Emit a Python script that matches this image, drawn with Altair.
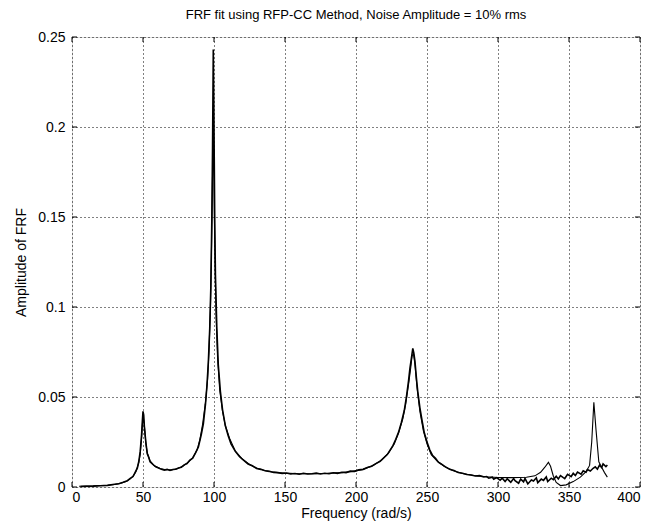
import altair as alt
import pandas as pd

# ---- data ----
freq_meas = [6, 10, 15, 20, 25, 30, 33, 36, 39, 41, 43, 45, 46, 47, 48, 49, 49.5, 50, 50.5, 51, 52, 53, 54, 55,
             57, 59, 61, 63, 65, 67, 69, 71, 73, 75, 77, 79, 81, 83, 85, 87, 89, 91, 92.5, 94, 95, 96, 97,
             97.8, 98.5, 99, 99.5, 100, 100.5, 101, 102, 103, 104.5, 106, 108, 110, 112, 115, 118, 121, 124,
             127, 130, 133, 136, 139, 142, 145, 148, 151, 154, 157, 160, 163, 166, 169, 172, 175, 178, 181,
             184, 187, 190, 193, 196, 199, 202, 205, 208, 211, 214, 217, 220, 222, 224, 226, 228, 230, 232,
             234, 235.5, 237, 238, 239, 240, 240.7, 241.5, 242.5, 243.5, 245, 246.5, 248, 250, 252, 254, 256,
             258, 260, 263, 266, 269, 272, 275, 278, 281, 284, 287, 290,
             292, 293.5, 296, 297, 299, 301.5, 303, 305, 306.5, 309,
             311, 312, 314.5, 316, 318, 319, 321, 323.5, 325, 327,
             328, 330.5, 332, 334, 335, 337.5, 339, 341, 342.5, 344,
             346, 347, 349, 351.5, 353, 354.5, 356, 358.5, 360, 362,
             363, 365, 367, 368.5, 370, 371.5, 373, 374, 376, 377]
amp_meas = [0.0003, 0.0004, 0.0005, 0.0007, 0.0009, 0.0015, 0.0018, 0.0026, 0.0035, 0.0048, 0.0058, 0.0090,
            0.0105, 0.0140, 0.0195, 0.029, 0.036, 0.042, 0.040, 0.033, 0.025, 0.0185, 0.0165, 0.0140,
            0.0125, 0.0112, 0.0105, 0.0098, 0.0094, 0.0098, 0.0092, 0.0097, 0.0099, 0.0106, 0.0110, 0.0123,
            0.0130, 0.0150, 0.0160, 0.0190, 0.0222, 0.0290, 0.0350, 0.0460, 0.0560, 0.0690, 0.0880,
            0.112, 0.150, 0.190, 0.243, 0.200, 0.150, 0.118, 0.088, 0.068, 0.053, 0.043, 0.034, 0.0285,
            0.0240, 0.0198, 0.0168, 0.0148, 0.0128, 0.0118, 0.0103, 0.0098, 0.0090, 0.0087, 0.0081, 0.0080,
            0.0075, 0.0078, 0.0072, 0.0075, 0.0071, 0.0076, 0.0072, 0.0074, 0.0077, 0.0072, 0.0076, 0.0074,
            0.0079, 0.0076, 0.0082, 0.0080, 0.0088, 0.0087, 0.0095, 0.0098, 0.0108, 0.0115, 0.0130, 0.0142,
            0.0165, 0.0180, 0.0205, 0.0230, 0.0265, 0.0305, 0.0360, 0.0425, 0.0500, 0.0590, 0.0660, 0.0715,
            0.0770, 0.0745, 0.0700, 0.0610, 0.0530, 0.0440, 0.0370, 0.0305, 0.0250, 0.0205, 0.0175, 0.0160,
            0.0138, 0.0128, 0.0112, 0.0098, 0.0092, 0.0080, 0.0076, 0.0069, 0.0067, 0.0061, 0.0063, 0.0056,
            0.0058, 0.0049, 0.0054, 0.0043, 0.0052, 0.0038, 0.0049, 0.0031, 0.0046, 0.0026,
            0.0047, 0.0035, 0.0021, 0.0044, 0.0029, 0.0048, 0.0017, 0.0039, 0.0033, 0.0051,
            0.0024, 0.0044, 0.0037, 0.0056, 0.0030, 0.0049, 0.0041, 0.0060, 0.0045, 0.0063,
            0.0052, 0.0047, 0.0070, 0.0058, 0.0076, 0.0064, 0.0083, 0.0071, 0.0090, 0.0082,
            0.0097, 0.0089, 0.0104, 0.0112, 0.0099, 0.0121, 0.0108, 0.0128, 0.0113, 0.0122]

freq_fit = [5, 10, 15, 20, 25, 30, 35, 38, 41, 43, 45, 47, 48, 49, 50, 51, 52, 53, 55, 58, 62, 66, 70, 74, 78,
            82, 85, 88, 90, 92, 94, 95.5, 96.5, 97.5, 98.3, 99, 99.5, 100, 100.7, 101.5, 102.5, 104, 106, 108,
            111, 115, 120, 125, 130, 135, 140, 145, 150, 160, 170, 180, 190, 197, 205, 212, 218, 223, 227,
            230, 233, 235, 237, 238.5, 239.5, 240.5, 241.5, 243, 245, 247.5, 250, 253, 257, 262, 268, 275,
            283, 292, 300, 310, 320, 326, 330, 333, 335.5, 337, 339, 341, 344, 348, 353, 358, 362, 364.5,
            366, 367.5, 369, 371, 373, 375, 377]
amp_fit = [0.0004, 0.0005, 0.0006, 0.0008, 0.0010, 0.0014, 0.0022, 0.0030, 0.0045, 0.0060, 0.0085, 0.0135,
           0.018, 0.027, 0.040, 0.034, 0.024, 0.019, 0.0145, 0.0118, 0.0103, 0.0096, 0.0095, 0.0101, 0.0115,
           0.0138, 0.0162, 0.0205, 0.026, 0.035, 0.047, 0.060, 0.076, 0.100, 0.135, 0.175, 0.197, 0.165, 0.125,
           0.094, 0.072, 0.054, 0.042, 0.034, 0.027, 0.020, 0.0155, 0.0125, 0.0105, 0.0093, 0.0085, 0.0080,
           0.0077, 0.0074, 0.0074, 0.0076, 0.0080, 0.0086, 0.0098, 0.0120, 0.0150, 0.0190, 0.0240, 0.030,
           0.038, 0.046, 0.057, 0.066, 0.073, 0.074, 0.068, 0.055, 0.042, 0.031, 0.024, 0.018, 0.0145,
           0.0115, 0.0092, 0.0075, 0.0064, 0.0057, 0.0053, 0.0052, 0.0054, 0.0062, 0.0082, 0.0110, 0.0137,
           0.0115, 0.0060, 0.0025, 0.0008, 0.0012, 0.0030, 0.0055, 0.0085, 0.0120, 0.025, 0.047, 0.032,
           0.014, 0.0110, 0.0080, 0.0055]

x_ticks = [0, 50, 100, 150, 200, 250, 300, 350, 400]
y_ticks = [0, 0.05, 0.1, 0.15, 0.2, 0.25]

title_text = "FRF fit using RFP-CC Method, Noise Amplitude = 10% rms"
x_title = "Frequency (rad/s)"
y_title = "Amplitude of FRF"

W, H = 568, 450
FONT = "Liberation Sans"

meas = pd.DataFrame({"f": freq_meas, "a": amp_meas, "s": "measured"})
fit = pd.DataFrame({"f": freq_fit, "a": amp_fit, "s": "fit"})
xt = pd.DataFrame({"t": x_ticks})
yt = pd.DataFrame({"t": y_ticks})

xs = alt.Scale(domain=[0, 400], nice=False)
ys = alt.Scale(domain=[0, 0.25], nice=False)

xaxis = alt.Axis(values=x_ticks, title=x_title, grid=True, gridDash=[1, 3], gridColor="black",
                 gridOpacity=1, tickSize=0, labelPadding=3, domain=False, titlePadding=2,
                 labelFont=FONT, labelFontSize=14, labelColor="black",
                 titleFont=FONT, titleFontSize=14, titleFontWeight="normal", titleColor="black")
yaxis = alt.Axis(values=y_ticks, title=y_title, grid=True, gridDash=[1, 3], gridColor="black",
                 gridOpacity=1, tickSize=0, labelPadding=7, domain=False, format="~g",
                 titlePadding=9,
                 labelFont=FONT, labelFontSize=14, labelColor="black",
                 titleFont=FONT, titleFontSize=14, titleFontWeight="normal", titleColor="black")

fit_line = alt.Chart(fit).mark_line(color="black", strokeWidth=1.1).encode(
    x=alt.X("f:Q", scale=xs, axis=xaxis),
    y=alt.Y("a:Q", scale=ys, axis=yaxis),
)
meas_line = alt.Chart(meas).mark_line(color="black", strokeWidth=1.6).encode(
    x=alt.X("f:Q", scale=xs),
    y=alt.Y("a:Q", scale=ys),
)

tick_len = 5
xb = alt.Chart(xt).mark_rule(color="black", strokeWidth=1).encode(
    x=alt.X("t:Q", scale=xs), y=alt.value(H), y2=alt.value(H - tick_len))
xtop = alt.Chart(xt).mark_rule(color="black", strokeWidth=1).encode(
    x=alt.X("t:Q", scale=xs), y=alt.value(0), y2=alt.value(tick_len))
yl = alt.Chart(yt).mark_rule(color="black", strokeWidth=1).encode(
    y=alt.Y("t:Q", scale=ys), x=alt.value(0), x2=alt.value(tick_len))
yr = alt.Chart(yt).mark_rule(color="black", strokeWidth=1).encode(
    y=alt.Y("t:Q", scale=ys), x=alt.value(W), x2=alt.value(W - tick_len))

chart = alt.layer(fit_line, meas_line, xb, xtop, yl, yr).properties(
    width=W, height=H,
    title=alt.TitleParams(title_text, font=FONT, fontSize=13, fontWeight="normal",
                          color="black", anchor="middle", offset=8),
    autosize=alt.AutoSizeParams(type="none"),
    padding={"left": 64, "top": 29, "right": 10, "bottom": 34},
).configure_view(stroke="black", strokeWidth=1.5).configure(background="white")

chart.save("out.html", embed_options={"renderer": "svg", "actions": False})
